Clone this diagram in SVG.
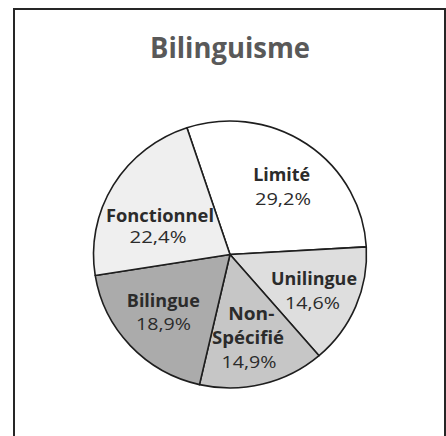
<svg xmlns="http://www.w3.org/2000/svg" width="446" height="436" viewBox="0 0 446 436">
<style>
.frame{fill:#ffffff;stroke:#262626;stroke-width:2}
.slice{stroke:#1e1e1e;stroke-width:1.6;stroke-linejoin:round}
.title{font-family:"Open Sans","Liberation Sans",sans-serif;font-weight:bold;font-size:28px;fill:#595959;text-anchor:middle}
.lbl{font-family:"Open Sans","Liberation Sans",sans-serif;font-size:17px;fill:#2b2b2b;text-anchor:middle}
.b{font-weight:bold}
</style>
<rect class="frame" x="14" y="9" width="431" height="440"/>
<text class="title" x="230" y="58" textLength="160" lengthAdjust="spacingAndGlyphs">Bilinguisme</text>
<g id="limite">
<path class="slice" fill="#ffffff" d="M230,254.5 L186.92,127.82 A136.5,133.5 0 0 1 366.28,246.86 Z"/>
<text class="lbl b" x="281.7" y="181" textLength="57" lengthAdjust="spacingAndGlyphs">Limité</text>
<text class="lbl" x="283" y="205" textLength="56" lengthAdjust="spacingAndGlyphs">29,2%</text>
</g>
<g id="unilingue">
<path class="slice" fill="#dedede" d="M230,254.5 L366.28,246.86 A136.5,133.5 0 0 1 319.05,355.68 Z"/>
<text class="lbl b" x="314" y="285" textLength="86" lengthAdjust="spacingAndGlyphs">Unilingue</text>
<text class="lbl" x="312.5" y="309" textLength="55" lengthAdjust="spacingAndGlyphs">14,6%</text>
</g>
<g id="non-specifie">
<path class="slice" fill="#c6c6c6" d="M230,254.5 L319.05,355.68 A136.5,133.5 0 0 1 199.48,384.62 Z"/>
<text class="lbl b" x="251.3" y="320" textLength="46" lengthAdjust="spacingAndGlyphs">Non-</text>
<text class="lbl b" x="248" y="344" textLength="72" lengthAdjust="spacingAndGlyphs">Spécifié</text>
<text class="lbl" x="249" y="368" textLength="55" lengthAdjust="spacingAndGlyphs">14,9%</text>
</g>
<g id="bilingue">
<path class="slice" fill="#ababab" d="M230,254.5 L199.48,384.62 A136.5,133.5 0 0 1 95.20,275.48 Z"/>
<text class="lbl b" x="163.3" y="307" textLength="73" lengthAdjust="spacingAndGlyphs">Bilingue</text>
<text class="lbl" x="163.5" y="330" textLength="55" lengthAdjust="spacingAndGlyphs">18,9%</text>
</g>
<g id="fonctionnel">
<path class="slice" fill="#efefef" d="M230,254.5 L95.20,275.48 A136.5,133.5 0 0 1 186.92,127.82 Z"/>
<text class="lbl b" x="160" y="222" textLength="108" lengthAdjust="spacingAndGlyphs">Fonctionnel</text>
<text class="lbl" x="158" y="243" textLength="57" lengthAdjust="spacingAndGlyphs">22,4%</text>
</g>
</svg>
